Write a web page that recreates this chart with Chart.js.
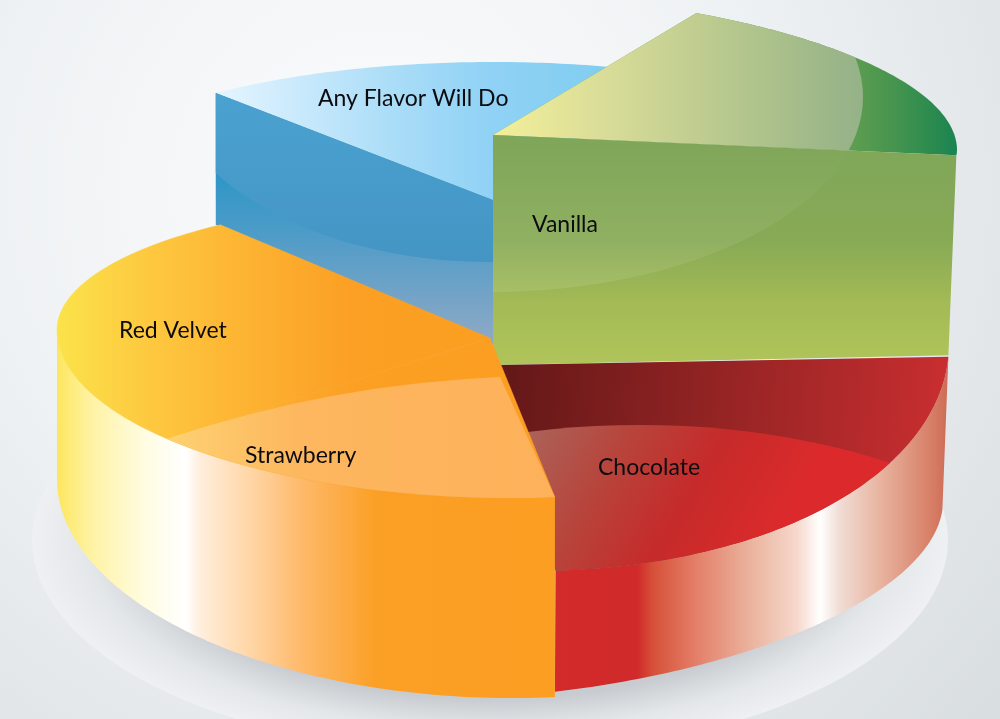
<!DOCTYPE html>
<html>
<head>
<meta charset="utf-8">
<style>html,body{margin:0;padding:0;background:#eef0f2;overflow:hidden}canvas{display:block}</style>
<script src="https://cdn.jsdelivr.net/npm/chart.js@4"></script>
</head>
<body>
<canvas id="c" width="1000" height="719"></canvas>
<script>
const categories = ['Vanilla', 'Chocolate', 'Strawberry', 'Red Velvet', 'Any Flavor Will Do'];
const shares = [18.6, 22.2, 15.5, 25.6, 18.1];
const firstSliceRotation = 26;

const labelSpots = [[532, 232], [598, 475], [245, 463], [119, 338], [318, 106]];

// projection of each slice: rings are the tilted circle at top and bottom of its block
const orangeTop = {cx: 500, cy: 335, rx: 443, f: 163, b: 138, s: 5};
const orangeBot = {cx: 500, cy: 485, rx: 443, f: 213, b: 138, s: 6};
const projections = [
  {apex: [493, 135], apexLow: [493, 365],
   top: {cx: 493, cy: 135, rx: 464, f: 100, b: 143, s: 15},
   bot: {cx: 493, cy: 365, rx: 456, f: 100, b: 143, s: -15}},
  {apex: [500, 365],
   top: {cx: 500, cy: 325, rx: 449, f: 245, b: 140, s: 19},
   bot: {cx: 500, cy: 533, rx: 443, f: 164, b: 140, s: -32}},
  {apex: [490, 338], top: orangeTop, bot: orangeBot},
  {apex: [490, 338], top: orangeTop, bot: orangeBot},
  {apex: [493, 200], apexLow: [493, 345],
   top: {cx: 493, cy: 200, rx: 439, f: 138, b: 138, s: 0},
   bot: {cx: 493, cy: 345, rx: 439, f: 138, b: 155, s: 0}}
];

function lin(ctx, x0, y0, x1, y1, stops) {
  const g = ctx.createLinearGradient(x0, y0, x1, y1);
  stops.forEach(s => g.addColorStop(s[0], s[1]));
  return g;
}
function hx(x0, x1, pairs) { // stops given at absolute x
  return ctx => lin(ctx, x0, 0, x1, 0, pairs.map(p => [(p[0] - x0) / (x1 - x0), p[1]]));
}
const orangeTopFill = hx(57, 553, [[57,'#fbe34a'],[143,'#fdca40'],[250,'#fdb232'],[350,'#fba024'],[553,'#fb9e22']]);
const orangeWall = hx(57, 553, [[57,'#fde65e'],[89,'#fef2a0'],[143,'#fffce0'],[186,'#ffffff'],[200,'#ffeedd'],[250,'#ffd6a6'],[304,'#feb868'],[375,'#fba026'],[553,'#fb9e22']]);
const redWall = hx(553, 949, [[553,'#d32a2a'],[637,'#d12a2a'],[653,'#d65038'],[697,'#e4806a'],[747,'#eab09a'],[797,'#f6d8cc'],[820,'#ffffff'],[840,'#f0dcd4'],[880,'#e8b4a0'],[930,'#d88068'],[949,'#cc6a55']]);
const vanillaOuter = hx(850, 957, [[850,'#5f9e50'],[900,'#42934f'],[957,'#1a8450']]);
const vanillaInner = hx(493, 860, [[493,'#f4f09a'],[608,'#d8dc98'],[710,'#bccb8f'],[838,'#9ab588'],[860,'#96b288']]);
const blueTop = hx(218, 610, [[218,'#e4f5ff'],[300,'#c9e9fc'],[400,'#a8dcf7'],[490,'#90d2f5'],[610,'#80cdf0']]);

function pt(r, a) {
  const u = Math.cos(a), v = Math.sin(a);
  return [r.cx + r.rx * u, r.cy + (v > 0 ? r.f : r.b) * v + r.s * u];
}
function arcPath(ctx, r, a0, a1, first) {
  const n = 80;
  for (let i = 0; i <= n; i++) {
    const p = pt(r, a0 + (a1 - a0) * i / n);
    if (i === 0 && first) ctx.moveTo(p[0], p[1]); else ctx.lineTo(p[0], p[1]);
  }
}
function wedge(ctx, apex, r, a0, a1) {
  ctx.beginPath();
  ctx.moveTo(apex[0], apex[1]);
  arcPath(ctx, r, a0, a1, false);
  ctx.closePath();
}
function outerWall(ctx, p, a0, a1, fill) {
  // only the part of the rim that faces the viewer
  const end = Math.min(a1, Math.PI);
  ctx.beginPath();
  arcPath(ctx, p.top, a0, end, true);
  arcPath(ctx, p.bot, end, a0, false);
  ctx.closePath();
  ctx.fillStyle = fill;
  ctx.fill();
}
function radialWall(ctx, p, a) {
  const t = pt(p.top, a), b = pt(p.bot, a);
  ctx.beginPath();
  ctx.moveTo(p.apex[0], p.apex[1]);
  ctx.lineTo(t[0], t[1]);
  ctx.lineTo(b[0], b[1]);
  ctx.lineTo(p.apexLow[0], p.apexLow[1]);
  ctx.closePath();
}
function inEllipse(ctx, x, y, rx, ry) {
  ctx.beginPath();
  ctx.ellipse(x, y, rx, ry, 0, 0, Math.PI * 2);
}

const piePainter = {
  id: 'piePainter',
  beforeDatasetsDraw(chart) {
    const ctx = chart.ctx;
    const arcs = chart.getDatasetMeta(0).data;
    const A = arcs.map(e => [e.startAngle, e.endAngle]);
    const iV = 0, iC = 1, iS = 2, iR = 3, iA = 4;

    // backdrop
    let g = ctx.createRadialGradient(380, 190, 30, 380, 190, 820);
    g.addColorStop(0, '#fbfbfc');
    g.addColorStop(0.45, '#eff2f4');
    g.addColorStop(1, '#d8dde0');
    ctx.fillStyle = g;
    ctx.fillRect(0, 0, chart.width, chart.height);

    // platter with soft shadow
    ctx.save();
    ctx.translate(490, 540);
    ctx.scale(458, 215);
    g = ctx.createRadialGradient(0, 0, 0, 0, 0, 1);
    g.addColorStop(0, '#bfc3c7');
    g.addColorStop(0.74, '#c8ccd0');
    g.addColorStop(0.88, '#e4e7ea');
    g.addColorStop(1, '#eef0f2');
    ctx.fillStyle = g;
    ctx.beginPath();
    ctx.arc(0, 0, 1, 0, Math.PI * 2);
    ctx.fill();
    ctx.restore();

    // Any Flavor Will Do
    let p = projections[iA];
    wedge(ctx, p.apex, p.top, A[iA][0], A[iA][1]);
    ctx.fillStyle = blueTop(ctx);
    ctx.fill();
    radialWall(ctx, p, A[iA][0]);
    ctx.fillStyle = lin(ctx, 0, 170, 0, 335, [[0,'#2b96c6'],[0.4,'#4f9cc8'],[1,'#8aa8c6']]);
    ctx.fill();
    ctx.save();
    radialWall(ctx, p, A[iA][0]);
    ctx.clip();
    inEllipse(ctx, 490, 62, 330, 200);
    ctx.fillStyle = lin(ctx, 0, 90, 0, 262, [[0,'#4aa2d0'],[1,'#4495c4']]);
    ctx.fill();
    ctx.restore();

    // Vanilla
    p = projections[iV];
    wedge(ctx, p.apex, p.top, A[iV][0], A[iV][1]);
    ctx.fillStyle = vanillaOuter(ctx);
    ctx.fill();
    ctx.save();
    wedge(ctx, p.apex, p.top, A[iV][0], A[iV][1]);
    ctx.clip();
    inEllipse(ctx, 490, 97, 373, 195);
    ctx.fillStyle = vanillaInner(ctx);
    ctx.fill();
    ctx.restore();
    radialWall(ctx, p, A[iV][1]);
    ctx.fillStyle = lin(ctx, 0, 140, 0, 365, [[0,'#7fa659'],[0.45,'#88aa56'],[0.72,'#a3ba55'],[1,'#b0c45a']]);
    ctx.fill();
    ctx.save();
    radialWall(ctx, p, A[iV][1]);
    ctx.clip();
    inEllipse(ctx, 490, 97, 373, 195);
    ctx.fillStyle = lin(ctx, 0, 140, 0, 292, [[0,'rgba(255,255,255,0)'],[1,'rgba(255,255,255,0.10)']]);
    ctx.fill();
    ctx.restore();

    // Chocolate
    p = projections[iC];
    outerWall(ctx, p, A[iC][0], A[iC][1], redWall(ctx));
    wedge(ctx, p.apex, p.top, A[iC][0], A[iC][1]);
    ctx.fillStyle = lin(ctx, 510, 365, 945, 400, [[0,'#651818'],[0.5,'#962424'],[1,'#c82e30']]);
    ctx.fill();
    ctx.save();
    wedge(ctx, p.apex, p.top, A[iC][0], A[iC][1]);
    ctx.clip();
    inEllipse(ctx, 640, 650, 450, 225);
    ctx.fillStyle = lin(ctx, 530, 425, 760, 560, [[0,'#ab635a'],[0.35,'#b8433a'],[0.65,'#c62a2a'],[1,'#dc2a2c']]);
    ctx.fill();
    ctx.restore();

    // Strawberry and Red Velvet share one block
    p = projections[iS];
    outerWall(ctx, p, A[iS][0], A[iR][1], orangeWall(ctx));
    [iS, iR].forEach(i => {
      wedge(ctx, p.apex, p.top, A[i][0], A[i][1]);
      ctx.fillStyle = orangeTopFill(ctx);
      ctx.fill();
      ctx.strokeStyle = orangeTopFill(ctx);
      ctx.lineWidth = 0.5;
      ctx.stroke();
    });
    // lighter Strawberry face, its inner edge bowed upward
    const e0 = pt(p.top, A[iS][0]);
    ctx.beginPath();
    ctx.moveTo(500, 377);
    ctx.lineTo(e0[0], e0[1]);
    arcPath(ctx, p.top, A[iS][0], A[iS][1], false);
    ctx.quadraticCurveTo(330, 384, 500, 377);
    ctx.closePath();
    ctx.fillStyle = hx(164, 553, [[164,'#fdd272'],[300,'#fdb75e'],[553,'#fdb15a']])(ctx);
    ctx.fill();

    // names
    ctx.fillStyle = '#0c0c10';
    ctx.font = '23px Lato';
    ctx.textBaseline = 'alphabetic';
    ctx.textAlign = 'left';
    categories.forEach((name, i) => ctx.fillText(name, labelSpots[i][0], labelSpots[i][1]));
    return false;
  }
};

new Chart(document.getElementById('c'), {
  type: 'pie',
  data: {labels: categories, datasets: [{data: shares, borderWidth: 0}]},
  options: {
    responsive: false,
    animation: false,
    rotation: firstSliceRotation,
    plugins: {legend: {display: false}, tooltip: {enabled: false}}
  },
  plugins: [piePainter]
});
</script>
</body>
</html>
